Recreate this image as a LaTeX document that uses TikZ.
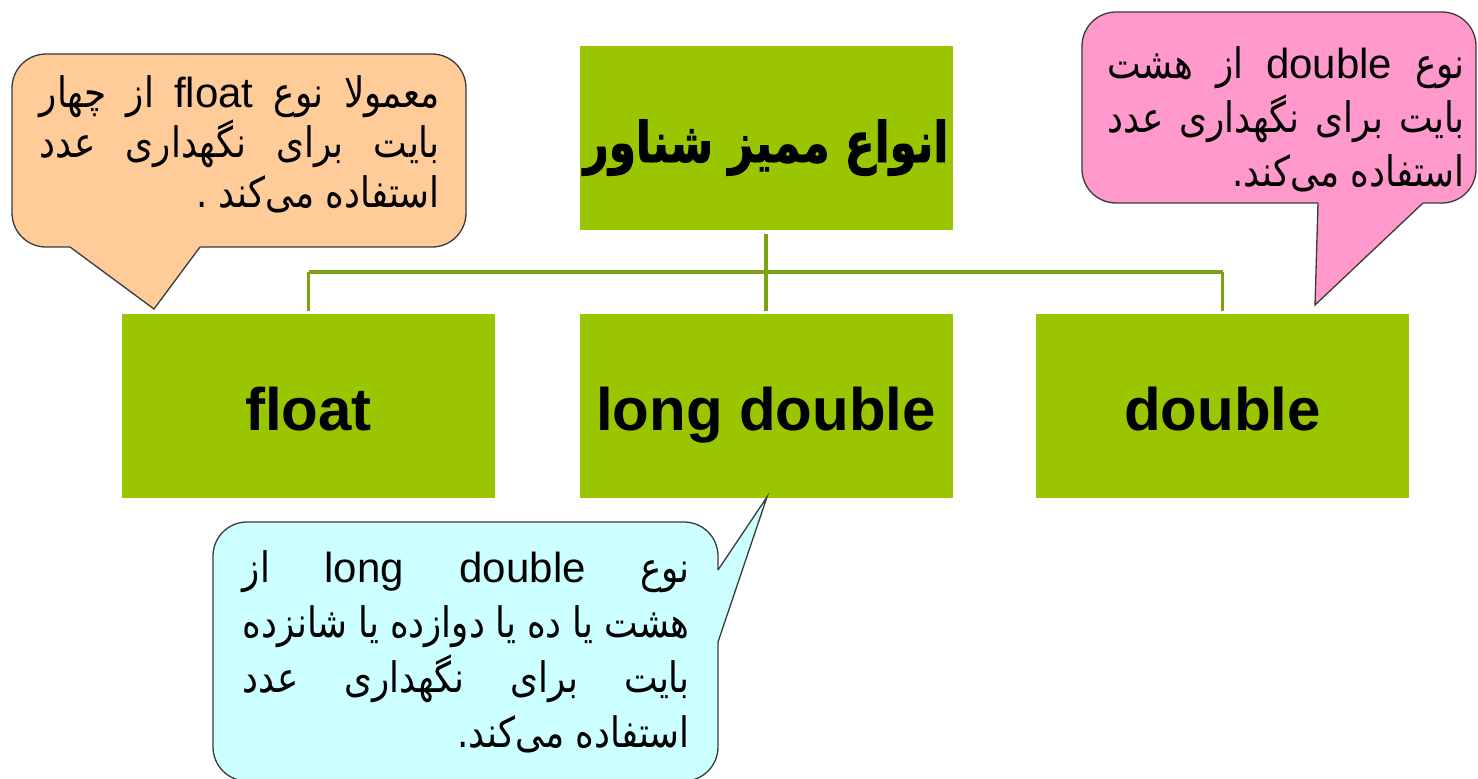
\documentclass[tikz,border=0pt]{standalone}
\usepackage{fontspec}
\setmainfont{Liberation Sans}
\newfontfamily\fa[Script=Arabic, FakeStretch=0.85]{DejaVu Sans}
\newfontfamily\titlefa[Script=Arabic, FakeStretch=0.78, FakeBold=1.5]{DejaVu Sans Bold}
\TeXXeTstate=1

\definecolor{boxgreen}{HTML}{99C600}
\definecolor{linkgreen}{HTML}{78A312}
\definecolor{peachfill}{HTML}{FFCC99}
\definecolor{pinkfill}{HTML}{FF99CC}
\definecolor{cyanfill}{HTML}{CCFFFF}
\definecolor{edgegray}{HTML}{3A3A3A}

% text helpers: one justified right-to-left line, one flush-right last line
\newlength\linew
\newcommand\jline[1]{\hbox to \linew{\beginR #1\endR}}
\newcommand\rline[1]{\hbox to \linew{\hfill\beginR #1\endR}}
\newcommand\latw[1]{{\normalfont #1}}

\tikzset{
  typebox/.style={fill=boxgreen, minimum width=373pt, minimum height=184pt,
    inner sep=0pt, text height=48pt, text depth=0pt,
    font=\bfseries\fontsize{60}{72}\selectfont},
  link/.style={draw=linkgreen, line width=3.5pt},
  bubble/.style={draw=edgegray, line width=1.3pt, rounded corners=34pt},
  tailedge/.style={draw=edgegray, line width=1.3pt, line join=miter},
  bubbletext/.style={anchor=base east, inner sep=0pt}
}

\begin{document}
\begin{tikzpicture}[x=1pt, y=-1pt]
\useasboundingbox (0,0) rectangle (1478,779);
\fill[white] (0,0) rectangle (1478,779);

% the four green boxes
\node[typebox] (title) at (766,138)
  {\titlefa\fontsize{56}{66}\selectfont\beginR انواع ممیز شناور\endR};
\node[typebox] (float) at (308.5,406) {float};
\node[typebox] (long) at (766,406) {long double};
\node[typebox] (double) at (1222.5,406) {double};

% tree connectors
\coordinate (bar) at (766,272);
\draw[link, shorten <=4pt, shorten >=3pt] (title) -- (long);
\draw[link] (float.north |- bar) -- (double.north |- bar);
\draw[link, shorten >=3pt] (float.north |- bar) -- (float.north);
\draw[link, shorten >=3pt] (double.north |- bar) -- (double.north);

% callout for float
\draw[bubble, fill=peachfill] (12,54) rectangle (466,247);
\fill[peachfill] (70,247) -- (154,309) -- (200,247) -- (200,242) -- (70,242) -- cycle;
\draw[tailedge] (70,247) -- (154,309) -- (200,247);
\node[bubbletext] (floatnote) at (440,207) {\fa\fontsize{42}{50}\selectfont\linew=400pt
  \vbox{\baselineskip=50pt
    \jline{معمولا نوع \latw{float} از چهار}
    \jline{بایت برای نگهداری عدد}
    \rline{استفاده می‌کند .}}};

% callout for double
\draw[bubble, fill=pinkfill] (1082,12) rectangle (1476,203);
\fill[pinkfill] (1318,203) -- (1315,305) -- (1423,203) -- (1423,198) -- (1318,198) -- cycle;
\draw[tailedge] (1318,203) -- (1315,305) -- (1423,203);
\node[bubbletext] (doublenote) at (1465,186) {\fa\fontsize{42}{54}\selectfont\linew=357pt
  \vbox{\baselineskip=54pt
    \jline{نوع \latw{double} از هشت}
    \jline{بایت برای نگهداری عدد}
    \rline{استفاده می‌کند.}}};

% callout for long double
\draw[bubble, fill=cyanfill] (213,522) rectangle (718,781);
\fill[cyanfill] (718,570) -- (767,497) -- (718,642) -- (713,642) -- (713,570) -- cycle;
\draw[tailedge] (718,570) -- (767,497) -- (718,642);
\node[bubbletext] (longnote) at (690,747) {\fa\fontsize{42}{55}\selectfont\linew=447pt
  \vbox{\baselineskip=55pt
    \jline{نوع \beginL\latw{long double}\endL{} از}
    \jline{هشت یا ده یا دوازده یا شانزده}
    \jline{بایت برای نگهداری عدد}
    \rline{استفاده می‌کند.}}};
\end{tikzpicture}
\end{document}
